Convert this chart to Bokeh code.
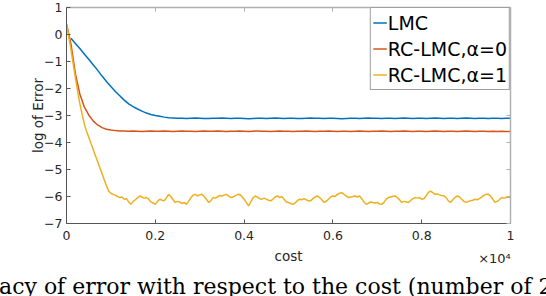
from bokeh.plotting import figure
from bokeh.models import (LinearAxis, FixedTicker, Range1d, Legend, LegendItem, Title)
from bokeh.embed import file_html
from bokeh.resources import INLINE

# ---------------- data ----------------
# LMC (blue), cost 100 .. 10000 step 100
lmc_cost = list(range(100, 10001, 100))
lmc_val = [
    -0.14, -0.33, -0.52, -0.72, -0.92, -1.12, -1.32, -1.54, -1.74, -1.93,
    -2.11, -2.27, -2.43, -2.57, -2.67, -2.76, -2.84, -2.91, -2.96, -3.00,
    -3.03, -3.06, -3.08, -3.09, -3.10,
    -3.10, -3.11, -3.10, -3.09, -3.10, -3.11, -3.11, -3.10, -3.10, -3.09,
    -3.10, -3.11, -3.10, -3.10, -3.11, -3.12, -3.11, -3.10, -3.10, -3.11,
    -3.10, -3.09, -3.10, -3.11, -3.10, -3.10, -3.11, -3.11, -3.10, -3.09,
    -3.10, -3.10, -3.11, -3.10, -3.10, -3.11, -3.12, -3.11, -3.10, -3.10,
    -3.11, -3.10, -3.09, -3.10, -3.10, -3.11, -3.10, -3.10, -3.11, -3.10,
    -3.09, -3.10, -3.11, -3.10, -3.10, -3.11, -3.10, -3.09, -3.10, -3.11,
    -3.10, -3.10, -3.11, -3.10, -3.09, -3.10, -3.11, -3.10, -3.10, -3.11,
    -3.10, -3.10, -3.11, -3.10, -3.10,
]

# RC-LMC, alpha=0 (red), cost 0 .. 10000 step 100
rc0_cost = list(range(0, 10001, 100))
rc0_val = [
    0.39, -0.35, -1.45, -2.20, -2.68, -2.98, -3.20, -3.35, -3.45, -3.51,
    -3.54, -3.56, -3.57,
    -3.57, -3.58, -3.57, -3.58, -3.59, -3.58, -3.57, -3.58, -3.58, -3.57,
    -3.58, -3.59, -3.58, -3.57, -3.58, -3.58, -3.59, -3.58, -3.57, -3.58,
    -3.58, -3.57, -3.58, -3.59, -3.58, -3.58, -3.57, -3.58, -3.59, -3.58,
    -3.57, -3.58, -3.58, -3.59, -3.58, -3.57, -3.58, -3.58, -3.59, -3.58,
    -3.58, -3.57, -3.58, -3.59, -3.58, -3.58, -3.57, -3.58, -3.59, -3.58,
    -3.58, -3.59, -3.58, -3.57, -3.58, -3.59, -3.58, -3.58, -3.57, -3.58,
    -3.59, -3.58, -3.58, -3.57, -3.58, -3.59, -3.58, -3.58, -3.59, -3.58,
    -3.57, -3.58, -3.59, -3.58, -3.58, -3.59, -3.58, -3.57, -3.58, -3.59,
    -3.58, -3.58, -3.59, -3.58, -3.59, -3.58, -3.59, -3.59,
]

# RC-LMC, alpha=1 (yellow), cost 0 .. 10000 step 50
rc1_cost = list(range(0, 10001, 50))
rc1_val = [
    0.39, -0.08, -0.55, -1.08, -1.60, -2.10, -2.55, -2.95, -3.30, -3.58,
    -3.80, -4.03, -4.25, -4.48, -4.70, -4.93, -5.15, -5.38, -5.60, -5.80,
    -5.88, -5.92, -5.95, -6.00, -6.04, -6.02, -6.10, -6.08, -6.20, -6.29,
    -6.18, -6.12, -6.05, -5.98, -6.02, -6.06, -6.04, -6.10, -6.20, -6.24,
    -6.29, -6.18, -6.10, -6.14, -6.16, -6.05, -5.92, -6.00, -6.12, -6.22,
    -6.18, -6.20, -6.26, -6.22, -6.29, -6.18, -6.05, -5.95, -5.92, -5.98,
    -5.94, -5.92, -6.00, -6.10, -6.22, -6.16, -6.04, -6.06, -6.02, -5.96,
    -5.98, -5.95, -5.92, -5.98, -6.04, -6.02, -5.97, -5.93, -5.92, -6.00,
    -6.10, -6.22, -6.35, -6.20, -6.05, -5.98, -6.02, -6.08, -6.10, -6.06,
    -6.10, -6.14, -6.16, -6.10, -6.02, -5.98, -6.04, -6.00, -6.10, -6.20,
    -6.22, -6.26, -6.29, -6.24, -6.15, -6.10, -6.12, -6.08, -6.12, -6.16,
    -6.16, -6.08, -6.02, -5.98, -6.04, -6.12, -6.22, -6.18, -6.10, -6.02,
    -5.98, -6.00, -5.92, -5.88, -5.86, -5.92, -5.98, -6.04, -6.02, -6.00,
    -5.98, -6.02, -5.98, -6.08, -6.20, -6.29, -6.25, -6.20, -6.22, -6.24,
    -6.22, -6.28, -6.29, -6.22, -6.10, -6.04, -6.02, -5.99, -5.98, -6.04,
    -6.12, -6.22, -6.18, -6.20, -6.22, -6.15, -6.08, -6.04, -6.06, -6.04,
    -6.10, -6.08, -5.98, -5.85, -5.80, -5.86, -5.92, -5.90, -5.94, -5.96,
    -5.98, -6.04, -6.16, -6.22, -6.12, -6.04, -5.98, -6.02, -6.10, -6.18,
    -6.22, -6.18, -6.16, -6.14, -6.10, -6.12, -6.08, -6.02, -5.96, -5.92,
    -5.92, -5.98, -6.10, -6.22, -6.18, -6.12, -6.04, -6.06, -6.04, -6.02,
    -6.04,
]

series_labels = ["LMC", "RC-LMC,\u03b1=0", "RC-LMC,\u03b1=1"]
series_colors = ["#0072BD", "#D95319", "#EDB120"]

x_ticks = [0, 2000, 4000, 6000, 8000, 10000]
x_tick_labels = ["0", "0.2", "0.4", "0.6", "0.8", "1"]
y_ticks = [-7, -6, -5, -4, -3, -2, -1, 0, 1]

x_label = "cost"
y_label = "log of Error"
exponent_text = "\u00d710\u2074"
exponent_at = 9640          # where the exponent text is centred, in cost units
caption_text = "racy of error with respect to the cost (number of 2"

# ---------------- figure ----------------
AX = "#262626"
FONT = "DejaVu Sans"

p = figure(frame_width=444, frame_height=216,
           x_range=Range1d(0, 10000), y_range=Range1d(-7, 1),
           output_backend="svg", toolbar_location=None,
           min_border_left=66, min_border_right=36,
           min_border_top=7, min_border_bottom=60,
           outline_line_color=None, background_fill_color="white",
           border_fill_color="white")
p.grid.visible = False

renderers = []
for xs, ys, c in zip([lmc_cost, rc0_cost, rc1_cost], [lmc_val, rc0_val, rc1_val], series_colors):
    r = p.line(xs, ys, line_color=c, line_width=1.5)
    renderers.append(r)

def style_axis(ax, ticks, line_color, show_labels):
    ax.ticker = FixedTicker(ticks=ticks)
    ax.major_tick_in = 4
    ax.major_tick_out = 0
    ax.minor_tick_in = 0
    ax.minor_tick_out = 0
    ax.axis_line_color = line_color
    ax.major_tick_line_color = line_color
    ax.axis_line_width = 1
    if show_labels:
        ax.major_label_text_font = FONT
        ax.major_label_text_font_size = "12.5px"
        ax.major_label_text_color = AX
        ax.axis_label_text_font = FONT
        ax.axis_label_text_font_size = "13.5px"
        ax.axis_label_text_font_style = "normal"
        ax.axis_label_text_color = AX
    else:
        ax.major_label_text_font_size = "0px"
        ax.major_label_text_color = None
        ax.major_label_standoff = 0

xa = p.xaxis[0]
style_axis(xa, x_ticks, "#555555", True)
xa.major_label_overrides = {t: l for t, l in zip(x_ticks, x_tick_labels)}
xa.major_label_standoff = 7

# second bottom axis: carries "cost" and the x10^4 multiplier on one line
xb = LinearAxis()
style_axis(xb, [exponent_at], None, True)
xb.major_tick_in = 0
xb.major_tick_line_color = None
xb.major_label_overrides = {exponent_at: exponent_text}
xb.major_label_text_font_size = "13px"
xb.major_label_standoff = 8
xb.axis_label = x_label
xb.axis_label_standoff = -21
p.add_layout(xb, "below")

ya = p.yaxis[0]
style_axis(ya, y_ticks, "#555555", True)
ya.major_label_standoff = 4
ya.axis_label = y_label
ya.axis_label_standoff = -5

top = LinearAxis()
style_axis(top, x_ticks, "#b0b0b0", False)
top.axis_line_width = 1.5
p.add_layout(top, "above")
right = LinearAxis()
style_axis(right, y_ticks, "#b0b0b0", False)
right.axis_line_width = 1.5
p.add_layout(right, "right")

legend = Legend(items=[LegendItem(label=l, renderers=[r]) for l, r in zip(series_labels, renderers)],
                location="top_right", margin=0, padding=2, spacing=1,
                glyph_width=14, glyph_height=25, label_height=25, label_standoff=1,
                label_text_font=FONT, label_text_font_size="19px", label_text_color="black",
                border_line_color="#404040", border_line_width=1,
                background_fill_color="white", background_fill_alpha=1)
p.add_layout(legend)

caption = Title(text=caption_text, align="left", offset=-78, standoff=10,
                text_font="DejaVu Serif", text_font_size="22px",
                text_font_style="normal", text_color="black")
p.add_layout(caption, "below")

open("out.html", "w").write(file_html(p, INLINE))
